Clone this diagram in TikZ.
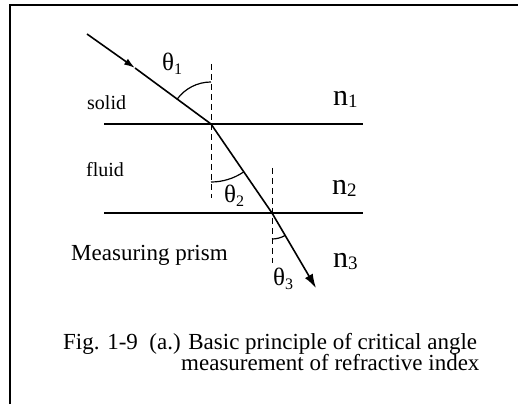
\documentclass[tikz,border=0pt]{standalone}
\usepackage{fontspec}
\setmainfont{Liberation Serif}
\usetikzlibrary{arrows.meta}
\newcommand{\idx}[1]{n\raisebox{-2pt}{\fontsize{19}{19}\selectfont #1}}
\newcommand{\ang}[1]{θ\raisebox{-4pt}{\fontsize{16}{16}\selectfont #1}}

\begin{document}
\begin{tikzpicture}[x=1pt, y=1pt,
    ray/.style={line width=1.6pt},
    iface/.style={line width=1.2pt},
    perp/.style={dash pattern=on 6pt off 4pt, line width=1pt},
    arcline/.style={line width=1.2pt},
    lbl/.style={inner sep=0pt, anchor=base west},
]
    \useasboundingbox (0,0) rectangle (518,404);
    % frame
    \draw[line width=1.6pt] (10,0) -- (10,399) -- (518,399);

    % points on the ray
    \coordinate (src) at (87,370);
    \coordinate (mid) at (135,336);
    \coordinate (hit1) at (211,280);
    \coordinate (hit2) at (272,191);
    \coordinate (tip) at (316,116);

    % interfaces and normals
    \draw[iface] (104,280) -- (363,280);
    \draw[iface] (104,191) -- (363,191);
    \draw[perp] (211,340) -- (211,206);
    \draw[perp] (272,236) -- (272,141);

    % ray
    \draw[ray, -{Latex[length=11pt, width=7pt]}] (src) -- (mid);
    \draw[ray] (mid) -- (hit1) -- (hit2);
    \draw[ray, -{Latex[length=14pt, width=9pt]}] (hit2) -- (tip);

    % angles
    \draw[arcline] (211,322) arc[start angle=90, end angle=144, radius=42];
    \draw[arcline] (211,222) arc[start angle=-90, end angle=-56, radius=58];
    \draw[arcline] (272,165) arc[start angle=-90, end angle=-60, radius=26];

    % labels
    \node[lbl, font=\fontsize{20}{24}\selectfont] (solid) at (87,294) {solid};
    \node[lbl, font=\fontsize{20}{24}\selectfont] (fluid) at (86,227) {fluid};
    \node[lbl, font=\fontsize{23}{27}\selectfont] (prism) at (71,143) {Measuring prism};
    \node[lbl, font=\fontsize{30}{34}\selectfont] (n1) at (333,298) {\idx{1}};
    \node[lbl, font=\fontsize{30}{34}\selectfont] (n2) at (332,209) {\idx{2}};
    \node[lbl, font=\fontsize{30}{34}\selectfont] (n3) at (333,136) {\idx{3}};
    \node[lbl, font=\fontsize{25}{28}\selectfont] (th1) at (162,333) {\ang{1}};
    \node[lbl, font=\fontsize{25}{28}\selectfont] (th2) at (224,201) {\ang{2}};
    \node[lbl, font=\fontsize{25}{28}\selectfont] (th3) at (273,119) {\ang{3}};

    % caption
    \node[lbl, font=\fontsize{23}{27}\selectfont] (cap1) at (63,55) {Fig. 1-9\ \ (a.) Basic principle of critical angle};
    \node[lbl, font=\fontsize{23}{27}\selectfont] (cap2) at (181,34) {measurement of refractive index};
\end{tikzpicture}
\end{document}
